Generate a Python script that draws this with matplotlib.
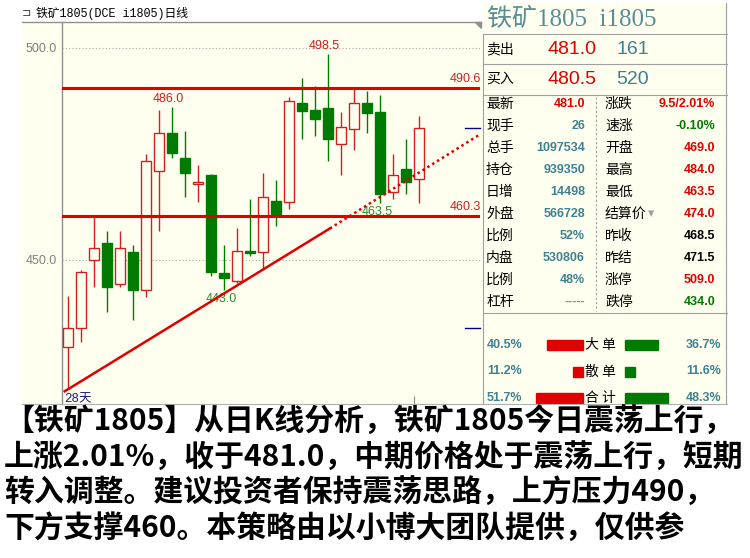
import matplotlib.pyplot as plt
from matplotlib.patches import Rectangle, Polygon
from matplotlib.transforms import blended_transform_factory

plt.rcParams['font.family'] = ['Noto Sans CJK SC', 'DejaVu Sans']

# ---- daily candles (28 sessions) ----
opens  = [429.5, 434.0, 450.0, 453.9, 444.3, 451.8, 442.8, 471.0, 479.9, 474.0,
          467.9, 470.0, 446.9, 445.0, 452.2, 451.8, 463.9, 463.7, 487.1, 485.4,
          485.8, 477.4, 480.9, 487.0, 484.8, 466.0, 471.4, 469.0]
highs  = [441.5, 447.5, 460.2, 456.8, 456.8, 453.5, 474.9, 485.4, 486.0, 480.4,
          472.4, 470.2, 453.5, 457.5, 464.3, 470.4, 468.9, 488.4, 493.0, 491.0,
          498.5, 484.8, 490.5, 489.9, 488.9, 474.9, 478.5, 484.0]
lows   = [419.8, 430.7, 443.7, 437.8, 443.7, 435.7, 441.3, 456.7, 474.0, 464.8,
          463.7, 446.2, 443.0, 444.6, 450.8, 448.0, 457.9, 462.0, 478.5, 479.2,
          473.2, 470.0, 475.9, 479.9, 463.5, 464.3, 465.6, 463.5]
closes = [434.0, 447.2, 452.8, 443.7, 452.8, 442.8, 473.3, 479.9, 475.3, 470.4,
          468.3, 447.2, 445.8, 452.2, 451.7, 464.8, 460.8, 487.5, 485.2, 483.3,
          478.5, 481.3, 487.0, 484.7, 465.6, 469.9, 468.3, 481.0]

grid_prices = [450.0, 500.0]
resistance = 490.6
support = 460.3
high_marks = [(8, 486.0), (20, 498.5)]
low_marks = [(12, 443.0), (24, 463.5)]
trend_x = [-0.25, 20.15, 31.7]
trend_y = [419.0, 457.4, 479.6]
last_price = 481.0
limit_down = 434.0
month_tick = 26.6

# ---- quote panel ----
title = '铁矿1805(DCE i1805)日线'
panel_title = '铁矿1805  i1805'
ask = ('卖出', '481.0', '161')
bid = ('买入', '480.5', '520')
left_labels = ['最新', '现手', '总手', '持仓', '日增', '外盘', '比例', '内盘', '比例', '杠杆']
left_values = ['481.0', '26', '1097534', '939350', '14498', '566728', '52%', '530806', '48%', '-----']
right_labels = ['涨跌', '速涨', '开盘', '最高', '最低', '结算价', '昨收', '昨结', '涨停', '跌停']
right_values = ['9.5/2.01%', '-0.10%', '469.0', '484.0', '463.5', '474.0', '468.5', '471.5', '509.0', '434.0']
flow_labels = ['大 单', '散 单', '合 计']
buy_pct = [40.5, 11.2, 51.7]
sell_pct = [36.7, 11.6, 48.3]

comment = ['【铁矿1805】从日K线分析，铁矿1805今日震荡上行，',
           '上涨2.01%，收于481.0，中期价格处于震荡上行，短期',
           '转入调整。建议投资者保持震荡思路，上方压力490，',
           '下方支撑460。本策略由以小博大团队提供，仅供参']

YEL = '#FFFFF0'
RED = '#D02020'
LRED = '#E00000'
GRN = '#007A00'
TEAL = '#3F8190'
GRAY = '#A0A0A0'

W, H = 750, 558
fig = plt.figure(figsize=(W / 100, H / 100), dpi=100)
fig.patch.set_facecolor('white')

# pixel-space backdrop for frames and the quote panel
bg = fig.add_axes([0, 0, 1, 1])
bg.set_xlim(0, W)
bg.set_ylim(H, 0)
bg.axis('off')
bg.add_patch(Rectangle((22, 22), 461, 382, color=YEL, zorder=0))
bg.add_patch(Rectangle((483, 3), 244, 401, color=YEL, zorder=0))
bg.plot([22, 481], [22, 22], color='#909090', lw=1)
bg.plot([62, 62], [22, 404], color='#909090', lw=1)
bg.plot([22, 727], [404, 404], color='#B0B0B0', lw=0.8)
bg.add_patch(Polygon([(475, 22), (481, 22), (481, 28)], color='#909090'))
bg.text(22, 13, '⊐', fontsize=8, va='center', family='DejaVu Sans', color='#404040')
bg.text(36, 13, title, fontsize=8.5, va='center', family=['Liberation Mono', 'Noto Sans CJK SC'])
bg.text(64, 399, '28天', fontsize=9, va='center', color='#1A1A80',
        family=['Liberation Mono', 'Noto Sans CJK SC'])

# ---- candlestick chart ----
ax = fig.add_axes([62 / W, (H - 404) / H, 418 / W, 382 / H])
ax.set_facecolor('none')
ax.set_xlim(-0.46, 31.7)
ax.set_ylim(416.0, 506.1)
for s in ax.spines.values():
    s.set_visible(False)
ax.set_yticks(grid_prices)
ax.set_yticklabels(['%.1f' % p for p in grid_prices], color='#808080', fontsize=9,
                   family='Liberation Sans')
ax.tick_params(axis='y', length=0, pad=4)
ax.set_xticks([month_tick])
ax.tick_params(axis='x', direction='in', length=6, color='#909090', labelbottom=False)
for p in grid_prices:
    ax.axhline(p, color='#A8A8A8', ls=(0, (1, 2)), lw=0.8, zorder=1)

w = 0.82
for i, (o, h, l, c) in enumerate(zip(opens, highs, lows, closes)):
    up = c >= o
    col = RED if up else GRN
    ax.vlines(i, l, h, color=col, lw=1, zorder=2)
    lo = min(o, c)
    hgt = max(abs(c - o), 0.35)
    ax.add_patch(Rectangle((i - w / 2, lo), w, hgt, facecolor=YEL if up else GRN,
                           edgecolor=col, lw=1, zorder=3))

ax.axhline(resistance, color=LRED, lw=2.2, zorder=4)
ax.axhline(support, color=LRED, lw=2.2, zorder=4)
for lvl in (resistance, support):
    ax.annotate('%.1f' % lvl, xy=(1, lvl), xycoords=('axes fraction', 'data'),
                xytext=(1, 3), textcoords='offset pixels', ha='right', va='bottom',
                color=RED, fontsize=9, family='Liberation Sans')

ax.plot(trend_x[:2], trend_y[:2], color=LRED, lw=1.8, zorder=5)
ax.plot(trend_x[1:], trend_y[1:], color=LRED, lw=1.8, ls=(0, (1, 1.3)), zorder=5)

for i, p in high_marks:
    ax.annotate('%.1f' % p, xy=(i, p), xytext=(-4, 2), textcoords='offset pixels',
                ha='center', va='bottom', color=RED, fontsize=9, family='Liberation Sans')
for i, p in low_marks:
    ax.annotate('%.1f' % p, xy=(i, p), xytext=(-3, -3), textcoords='offset pixels',
                ha='center', va='top', color='#2E8B2E', fontsize=9, family='Liberation Sans')

tr = blended_transform_factory(ax.transAxes, ax.transData)
for p in (last_price, limit_down):
    ax.plot([0.963, 1.0], [p, p], color='#000080', lw=1, transform=tr, clip_on=False)

# ---- quote panel ----
for y in (34, 64, 95, 313):
    bg.plot([483, 727], [y, y], color=GRAY, lw=0.8)
bg.plot([483, 483], [34, 404], color=GRAY, lw=0.8)
bg.plot([726, 726], [3, 404], color=GRAY, lw=0.8)
bg.plot([596, 596], [97, 311], color=GRAY, lw=0.8, ls=(0, (2, 2)))

bg.text(487, 19, panel_title, fontsize=18, va='center', color='#5A8E96',
        family=['Liberation Serif', 'Noto Sans CJK SC'])
for y, (lab, price, vol) in zip((49, 79), (ask, bid)):
    bg.text(486, y, lab, fontsize=10, va='center')
    bg.text(596, y, price, fontsize=14, va='center', ha='right', color=LRED, family='Liberation Sans')
    bg.text(649, y, vol, fontsize=14, va='center', ha='right', color=TEAL, family='Liberation Sans')

left_colors = [LRED] + [TEAL] * 8 + ['#909090']
right_colors = [LRED, GRN, LRED, LRED, LRED, LRED, 'black', 'black', LRED, GRN]
for k in range(len(left_labels)):
    y = 104 + 22 * k
    bg.text(486, y, left_labels[k], fontsize=10, va='center')
    bg.text(585, y, left_values[k], fontsize=9, va='center', ha='right', fontweight='bold',
            color=left_colors[k], family='Liberation Sans')
    bg.text(605, y, right_labels[k], fontsize=10, va='center')
    bg.text(715, y, right_values[k], fontsize=9, va='center', ha='right', fontweight='bold',
            color=right_colors[k], family='Liberation Sans')
bg.text(648, 104 + 22 * 5, '▾', fontsize=9, va='center', color='#A0A0A0', family='DejaVu Sans')

bar_scale = 0.9
for k, lab in enumerate(flow_labels):
    y = 345 + 26.5 * k
    bg.add_patch(Rectangle((583 - buy_pct[k] * bar_scale, y - 5), buy_pct[k] * bar_scale, 10,
                           color=LRED))
    bg.add_patch(Rectangle((625, y - 5), sell_pct[k] * bar_scale, 10, color=GRN))
    bg.text(585, y, lab, fontsize=10, va='center')
    bg.text(487, y, '%.1f%%' % buy_pct[k], fontsize=9, va='center', fontweight='bold',
            color=TEAL, family='Liberation Sans')
    bg.text(721, y, '%.1f%%' % sell_pct[k], fontsize=9, va='center', ha='right',
            fontweight='bold', color=TEAL, family='Liberation Sans')

# ---- commentary ----
for k, line in enumerate(comment):
    bg.text(4, 421 + 35.5 * k, line, fontsize=21.5, fontweight='bold', va='center', color='black')

fig.savefig('out.png', dpi=100, facecolor='white')
